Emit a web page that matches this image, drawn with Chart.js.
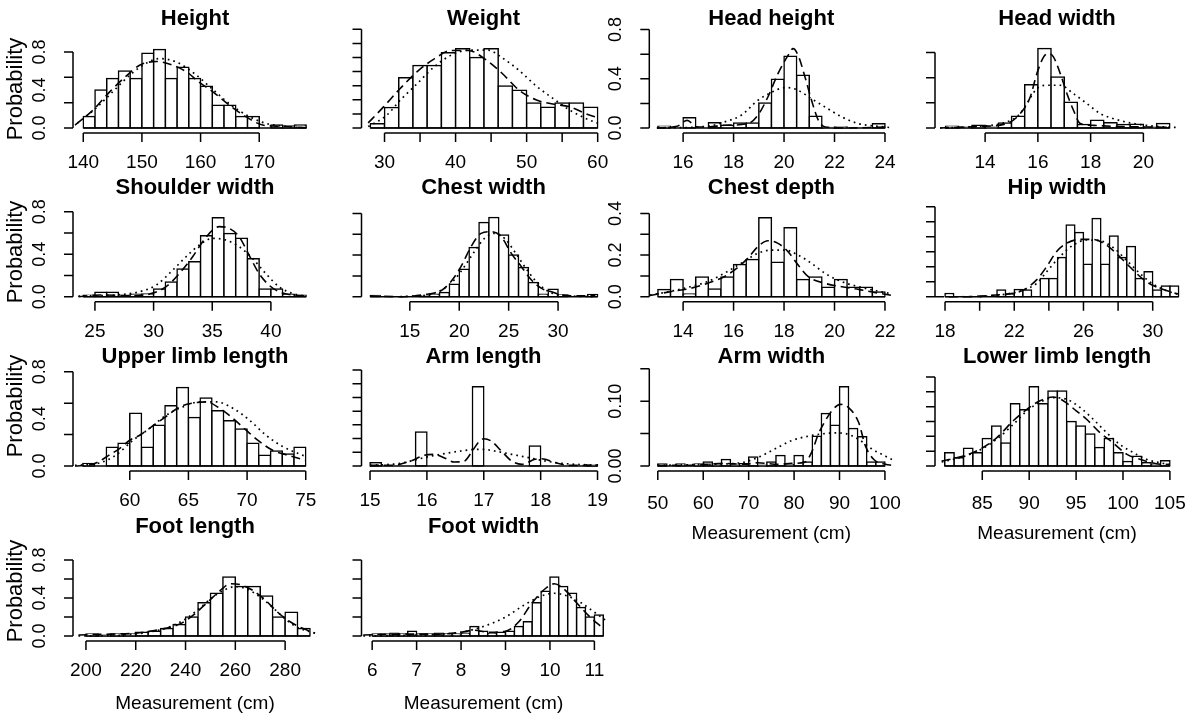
<!DOCTYPE html>
<html>
<head>
<meta charset="utf-8">
<script src="https://cdn.jsdelivr.net/npm/chart.js@4.4.0/dist/chart.umd.min.js"></script>
<style>
body{margin:0;background:#fff;}
#wrap{position:relative;width:1190px;height:717px;overflow:hidden;background:#fff;}
#wrap canvas{position:absolute;left:0;top:0;}
</style>
</head>
<body>
<div id="wrap"></div>
<script>
// ---- data (density per bin, curve points) ----
var heightBin = [140, 2];
var heightDens = [0.009,0.030,0.039,0.045,0.039,0.059,0.062,0.039,0.048,0.039,0.033,0.018,0.018,0.009,0.009,0,0.0023,0.0015,0.0023];
var heightKdeX = [138.6,141.7,144.5,147.4,149.6,152.5,155.3,157.6,159.8,162.1,164.9,167.7,170.6,172.8,178.8];
var heightKdeY = [0.0023,0.0143,0.0285,0.0413,0.0495,0.0525,0.0495,0.0443,0.036,0.0285,0.018,0.009,0.0023,0.0015,0];
var heightNormX = [139,142,145,148,151,153,156,159,162,165,168,171,174,178];
var heightNormY = [0.0038,0.015,0.0285,0.042,0.0518,0.0548,0.0518,0.0428,0.0308,0.0188,0.0098,0.0038,0.0015,0];

var weightBin = [28, 2];
var weightDens = [0.003,0.0145,0.0356,0.0444,0.0444,0.0534,0.0562,0.050,0.0562,0.0297,0.0268,0.0178,0.0147,0.0178,0.0178,0.0147];
var weightKdeX = [27.7,29.86,32.2,34.6,37.0,39.4,41.8,44.1,46.5,48.9,51.3,53.7,56.1,58.4,60.2];
var weightKdeY = [0.0036,0.015,0.028,0.040,0.049,0.055,0.055,0.049,0.039,0.027,0.020,0.017,0.015,0.010,0.007];
var weightNormX = [27.7,30.3,32.2,34.6,37.0,39.4,41.8,44.6,46.5,48.9,51.3,53.7,56.1,58.4,60.2];
var weightNormY = [0.001,0.009,0.0197,0.0315,0.0434,0.0517,0.0552,0.0552,0.050,0.041,0.030,0.021,0.0126,0.0066,0.003];

var headHBin = [15, 0.5];
var headHDens = [0.014,0,0.084,0,0.043,0.022,0.041,0.041,0.203,0.396,0.583,0.428,0.095,0.005,0.008,0,0,0.035];
var headHKdeX = [14.96,15.76,16.16,16.56,16.96,17.63,18.56,18.96,19.36,19.76,20.16,20.36,20.56,20.83,21.09,21.36,21.63,22.43,24.03];
var headHKdeY = [0,0.014,0.062,0.008,0.008,0.022,0.035,0.103,0.252,0.442,0.59,0.645,0.59,0.415,0.225,0.062,0.008,0,0.008];
var headHNormX = [14.96,16.96,17.63,18.3,18.96,19.5,20.03,20.16,20.56,21.09,21.63,22.3,22.96,24.03,24.3];
var headHNormY = [0,0.014,0.049,0.103,0.225,0.29,0.328,0.328,0.306,0.238,0.17,0.089,0.035,0.008,0];

var headWBin = [12.5, 0.5];
var headWDens = [0.013,0.005,0.021,0.005,0.04,0.093,0.345,0.632,0.406,0.204,0.027,0.061,0.042,0.027,0.029,0.005,0.035];
var headWKdeX = [12.29,13.81,14.82,15.33,15.71,15.96,16.22,16.41,16.59,16.85,17.10,17.35,17.61,18.11,18.87,20.14,21.03];
var headWKdeY = [0,0.013,0.035,0.114,0.247,0.432,0.566,0.593,0.566,0.432,0.274,0.141,0.035,0.021,0.013,0.008,0.005];
var headWNormX = [12.29,13.81,14.82,15.33,15.58,15.96,16.34,16.85,17.35,17.86,18.37,18.87,19.63,20.52,21.34];
var headWNormY = [0,0.013,0.048,0.114,0.194,0.313,0.34,0.34,0.273,0.194,0.114,0.074,0.035,0.013,0.003];

var shoulderBin = [24, 1];
var shoulderDens = [0.0032,0.0103,0.0103,0.0032,0.0055,0.0063,0.018,0.0345,0.065,0.0823,0.1435,0.1858,0.149,0.1373,0.0895,0.018,0.018,0.0055,0.0032];
var shoulderKdeX = [23.59,25.42,28.25,29.66,31.07,32.2,33.33,34.18,35.03,35.59,36.44,37.29,38.14,38.98,39.83,40.68,41.81,43.08];
var shoulderKdeY = [0,0.004,0.0023,0.0063,0.0235,0.055,0.094,0.1295,0.1568,0.1648,0.1608,0.1413,0.098,0.055,0.0275,0.0118,0.004,0.0015];
var shoulderNormX = [23.59,26.84,28.81,30.23,31.64,32.77,33.9,35.03,36.16,37.29,38.42,39.55,40.68,41.81,42.94];
var shoulderNormY = [0.0015,0.004,0.0118,0.0275,0.0628,0.094,0.1215,0.1373,0.1333,0.1178,0.0903,0.055,0.0235,0.0078,0.0015];

var chestWBin = [11, 1];
var chestWDens = [0.003,0,0,0,0,0.002,0.006,0.01,0.03,0.066,0.118,0.178,0.19,0.148,0.10,0.07,0.034,0.006,0.018,0.004,0,0,0.005];
var chestWKdeX = [10.99,14.05,16.77,18.13,19.15,20.17,21.19,22.21,23.23,24.25,25.27,26.29,27.31,28.33,29.35,30.37,31.73,33.78];
var chestWKdeY = [0.002,0,0.006,0.014,0.036,0.072,0.12,0.152,0.156,0.144,0.104,0.072,0.04,0.02,0.012,0.004,0.002,0.002];
var chestWNormX = [14.05,17.11,18.47,19.49,20.51,21.53,22.55,23.57,24.59,25.61,26.63,27.65,28.67,29.69,31.05,33.78];
var chestWNormY = [0,0.006,0.02,0.04,0.072,0.108,0.14,0.152,0.14,0.108,0.072,0.04,0.018,0.006,0.002,0];

var chestDBin = [13, 0.5];
var chestDDens = [0.035,0.083,0.013,0.094,0.037,0.094,0.155,0.179,0.379,0.166,0.331,0.083,0.094,0.045,0.083,0.045,0.045,0.022];
var chestDKdeX = [12.69,13.49,14.29,14.96,15.63,16.03,16.56,16.96,17.36,17.76,18.16,18.56,18.96,19.63,20.29,20.96,21.63,22.29];
var chestDKdeY = [0.006,0.024,0.04,0.064,0.096,0.128,0.184,0.24,0.269,0.256,0.216,0.152,0.096,0.064,0.048,0.035,0.019,0.006];
var chestDNormX = [12.69,13.63,14.29,14.96,15.63,16.29,16.96,17.49,18.03,18.56,19.09,19.63,20.29,20.96,21.63,22.29];
var chestDNormY = [0.008,0.029,0.048,0.072,0.112,0.16,0.208,0.224,0.224,0.2,0.16,0.112,0.072,0.048,0.029,0.013];

var hipBin = [18, 0.5];
var hipDens = [0.011,0,0.001,0.001,0,0,0.022,0.009,0.024,0.022,0,0.061,0.061,0.131,0.239,0.214,0.108,0.261,0.108,0.202,0.131,0.167,0.061,0.083,0.022,0.036,0.036];
var hipKdeX = [17.42,19.06,20.02,20.98,21.94,22.52,23.29,23.87,24.44,25.02,25.79,26.56,27.33,27.9,28.48,29.06,29.63,30.4,31.46];
var hipKdeY = [0,0,0.002,0.006,0.011,0.022,0.056,0.1,0.15,0.178,0.191,0.191,0.172,0.144,0.111,0.078,0.05,0.028,0.009];
var hipNormX = [20.02,21.56,22.52,23.29,23.87,24.63,25.4,26.17,26.94,27.71,28.48,29.25,30.02,30.79,31.46];
var hipNormY = [0,0.009,0.022,0.044,0.083,0.133,0.172,0.189,0.187,0.164,0.122,0.078,0.042,0.02,0.008];

var upperBin = [56, 1];
var upperDens = [0.004,0,0.03,0.036,0.084,0.03,0.065,0.096,0.125,0.077,0.108,0.088,0.072,0.059,0.036,0.017,0.024,0.019,0.03];
var upperKdeX = [55.33,56.88,58.3,59.15,60,60.85,61.98,63.12,64.25,65.38,66.52,67.65,68.78,69.92,71.05,72.18,73.31,75.01];
var upperKdeY = [0,0.003,0.018,0.028,0.041,0.049,0.064,0.079,0.094,0.1,0.102,0.092,0.076,0.057,0.039,0.025,0.018,0.009];
var upperNormX = [55.33,57.45,58.87,60.28,61.7,63.12,64.53,65.95,67.37,68.78,70.2,71.61,73.03,75.01];
var upperNormY = [0.001,0.005,0.018,0.041,0.06,0.081,0.094,0.102,0.102,0.092,0.073,0.049,0.031,0.015];

var armLBin = [15, 0.2];
var armLDens = [0.12,0,0,0,1.24,0,0,0,0,2.89,0,0,0,0,0.73,0,0,0,0,0.05];
var armLKdeX = [15,15.41,15.71,15.95,16.13,16.3,16.48,16.66,16.78,16.9,17.0,17.13,17.31,17.49,17.67,17.9,18.02,18.26,18.5,19];
var armLKdeY = [0.024,0.024,0.18,0.389,0.425,0.304,0.146,0.182,0.486,0.85,0.996,0.911,0.547,0.182,0.061,0.243,0.267,0.122,0.024,0.024];
var armLNormX = [15,15.53,15.95,16.24,16.6,16.9,17.0,17.19,17.49,17.79,18.08,18.38,19];
var armLNormY = [0.024,0.097,0.304,0.425,0.547,0.608,0.608,0.547,0.425,0.304,0.182,0.097,0.024];

var armWBin = [50, 2];
var armWDens = [0.003,0,0.003,0,0.003,0.006,0.003,0.01,0.002,0.0036,0.014,0.001,0.006,0.016,0.002,0.016,0.006,0.046,0.081,0.063,0.122,0.058,0.045,0.006,0.006];
var armWKdeX = [50,57.19,64.59,69.04,72,76.44,79.41,82.37,83.85,85.33,86.81,88.3,90.15,92,94.22,95.7,97.56,100.15,101.6];
var armWKdeY = [0.001,0.001,0.004,0.0026,0.005,0.0026,0.004,0.006,0.021,0.049,0.069,0.085,0.095,0.09,0.067,0.031,0.01,0.0026,0.001];
var armWNormX = [50,60.89,68.3,72,75.7,79.41,83.11,86.81,89.04,91.26,94.22,97.19,100.15,101.6];
var armWNormY = [0.001,0.0026,0.005,0.013,0.026,0.039,0.046,0.05,0.051,0.05,0.041,0.026,0.015,0.01];

var lowerBin = [81, 1];
var lowerDens = [0.018,0.011,0.024,0.018,0.037,0.054,0.031,0.084,0.076,0.107,0.084,0.101,0.101,0.06,0.054,0.043,0.025,0.037,0.018,0.006,0.013,0.0045,0.002,0.007];
var lowerKdeX = [80.67,82.98,84.75,86.53,88.3,89.72,91.15,92.57,93.63,95.05,96.12,97.54,98.96,100.38,101.8,103.58,105];
var lowerKdeY = [0.0067,0.0135,0.0225,0.038,0.061,0.076,0.088,0.093,0.088,0.074,0.063,0.045,0.031,0.016,0.009,0.003,0.002];
var lowerNormX = [80.67,82.98,84.75,86.53,88.3,89.72,91.15,92.57,93.99,95.41,96.83,98.25,99.67,101.1,102.5,103.9,105];
var lowerNormY = [0.0054,0.0126,0.0216,0.036,0.056,0.074,0.086,0.092,0.09,0.079,0.063,0.045,0.029,0.018,0.009,0.0045,0.002];

var footLBin = [200, 5];
var footLDens = [0.02,0.01,0.02,0.02,0.04,0.05,0.08,0.12,0.2,0.35,0.45,0.62,0.52,0.52,0.42,0.2,0.25,0.08];
var footLKdeX = [197,210,220,230,238,244,249,254,258,262,267,272,277,282,288,292];
var footLKdeY = [0.01,0.02,0.03,0.07,0.13,0.24,0.36,0.48,0.55,0.54,0.48,0.38,0.25,0.15,0.07,0.03];
var footLNormX = [197,215,225,233,240,246,251,256,260,265,270,275,280,285,292];
var footLNormY = [0,0.01,0.04,0.09,0.18,0.3,0.41,0.49,0.52,0.49,0.41,0.3,0.18,0.09,0.03];

var footWBin = [6, 0.2];
var footWDens = [0.02,0.02,0.03,0.02,0.05,0.02,0.02,0.03,0.02,0.02,0.03,0.1,0.05,0.03,0.04,0.05,0.1,0.15,0.35,0.47,0.62,0.52,0.45,0.3,0.2,0.22];
var footWKdeX = [5.8,6.5,7,7.5,8,8.3,8.6,9,9.3,9.6,9.9,10.1,10.3,10.6,10.9,11.2];
var footWKdeY = [0.01,0.02,0.02,0.02,0.04,0.06,0.04,0.05,0.15,0.35,0.5,0.55,0.5,0.35,0.2,0.08];
var footWNormX = [5.8,7,8,8.5,9,9.4,9.8,10.1,10.4,10.7,11,11.3];
var footWNormY = [0,0.01,0.04,0.1,0.2,0.32,0.42,0.45,0.42,0.35,0.25,0.15];

// ---- page layout ----
var W = 1190, H = 717;
var colLeft = [73, 361.5, 649.3, 935];
var rowBase = [128, 296.7, 466, 636];
var plotW = 244, plotH = 100;
var probY = [89, 252, 406, 591];
var FONT = '"Liberation Sans", Arial, sans-serif';

var panels = [
  {title:'Height', col:0, row:0, bin:heightBin, dens:heightDens, kx:heightKdeX, ky:heightKdeY, nx:heightNormX, ny:heightNormY,
   xRange:[138.25,179.85], xTicks:[140,150,160,170], xLabels:[140,150,160,170],
   yTicks:[0,0.02,0.04,0.06], topPx:76, yLabels:[[0,'0.0'],[0.03,'0.4'],[0.06,'0.8']]},
  {title:'Weight', col:1, row:0, bin:weightBin, dens:weightDens, kx:weightKdeX, ky:weightKdeY, nx:weightNormX, ny:weightNormY,
   xRange:[26.76,61.1], xTicks:[30,35,40,45,50,55,60], xLabels:[30,40,50,60],
   yTicks:[0,0.01,0.02,0.03,0.04,0.05,0.06,0.07], topPx:98.7, yLabels:[]},
  {title:'Head height', col:2, row:0, bin:headHBin, dens:headHDens, kx:headHKdeX, ky:headHKdeY, nx:headHNormX, ny:headHNormY,
   xRange:[14.66,24.33], xTicks:[16,18,20,22,24], xLabels:[16,18,20,22,24],
   yTicks:[0,0.2,0.4,0.6,0.8], topPx:98.4, yLabels:[[0,'0.0'],[0.4,'0.4'],[0.8,'0.8']]},
  {title:'Head width', col:3, row:0, bin:headWBin, dens:headWDens, kx:headWKdeX, ky:headWKdeY, nx:headWNormX, ny:headWNormY,
   xRange:[12.1,21.35], xTicks:[14,16,18,20], xLabels:[14,16,18,20],
   yTicks:[0,0.2,0.4,0.6], topPx:75.4, yLabels:[]},
  {title:'Shoulder width', col:0, row:1, bin:shoulderBin, dens:shoulderDens, kx:shoulderKdeX, ky:shoulderKdeY, nx:shoulderNormX, ny:shoulderNormY,
   xRange:[23.13,43.93], xTicks:[25,30,35,40], xLabels:[25,30,35,40],
   yTicks:[0,0.05,0.1,0.15,0.2], topPx:85, yLabels:[[0,'0.0'],[0.1,'0.4'],[0.2,'0.8']]},
  {title:'Chest width', col:1, row:1, bin:chestWBin, dens:chestWDens, kx:chestWKdeX, ky:chestWKdeY, nx:chestWNormX, ny:chestWNormY,
   xRange:[10.11,34.8], xTicks:[15,20,25,30], xLabels:[15,20,25,30],
   yTicks:[0,0.05,0.1,0.15,0.2], topPx:83.3, yLabels:[]},
  {title:'Chest depth', col:2, row:1, bin:chestDBin, dens:chestDDens, kx:chestDKdeX, ky:chestDKdeY, nx:chestDNormX, ny:chestDNormY,
   xRange:[12.66,22.33], xTicks:[14,16,18,20,22], xLabels:[14,16,18,20,22],
   yTicks:[0,0.1,0.2,0.3,0.4], topPx:83.3, yLabels:[[0,'0.0'],[0.2,'0.2'],[0.4,'0.4']]},
  {title:'Hip width', col:3, row:1, bin:hipBin, dens:hipDens, kx:hipKdeX, ky:hipKdeY, nx:hipNormX, ny:hipNormY,
   xRange:[17.42,31.52], xTicks:[18,20,22,24,26,28,30], xLabels:[18,22,26,30],
   yTicks:[0,0.05,0.1,0.15,0.2,0.25,0.3], topPx:90, yLabels:[]},
  {title:'Upper limb length', col:0, row:2, bin:upperBin, dens:upperDens, kx:upperKdeX, ky:upperKdeY, nx:upperNormX, ny:upperNormY,
   xRange:[55.16,75.96], xTicks:[60,65,70,75], xLabels:[60,65,70,75],
   yTicks:[0,0.05,0.1,0.15], topPx:94.3, yLabels:[[0,'0.0'],[0.075,'0.4'],[0.15,'0.8']]},
  {title:'Arm length', col:1, row:2, bin:armLBin, dens:armLDens, kx:armLKdeX, ky:armLKdeY, nx:armLNormX, ny:armLNormY,
   xRange:[14.85,19.14], xTicks:[15,16,17,18,19], xLabels:[15,16,17,18,19],
   yTicks:[0,0.5,1,1.5,2,2.5,3,3.5], topPx:96, yLabels:[]},
  {title:'Arm width', col:2, row:2, bin:armWBin, dens:armWDens, kx:armWKdeX, ky:armWKdeY, nx:armWNormX, ny:armWNormY,
   xRange:[48.13,101.84], xTicks:[50,60,70,80,90,100], xLabels:[50,60,70,80,90,100],
   yTicks:[0,0.05,0.1,0.15], topPx:97.3, yLabels:[[0,'0.00'],[0.1,'0.10']], xName:'Measurement (cm)'},
  {title:'Lower limb length', col:3, row:2, bin:lowerBin, dens:lowerDens, kx:lowerKdeX, ky:lowerKdeY, nx:lowerNormX, ny:lowerNormY,
   xRange:[79.96,105.97], xTicks:[85,90,95,100,105], xLabels:[85,90,95,100,105],
   yTicks:[0,0.02,0.04,0.06,0.08,0.1,0.12], topPx:89, yLabels:[], xName:'Measurement (cm)'},
  {title:'Foot length', col:0, row:3, bin:footLBin, dens:footLDens, kx:footLKdeX, ky:footLKdeY, nx:footLNormX, ny:footLNormY,
   xRange:[194.8,292.8], xTicks:[200,220,240,260,280], xLabels:[200,220,240,260,280],
   yTicks:[0,0.2,0.4,0.6,0.8], topPx:76, yLabels:[[0,'0.0'],[0.4,'0.4'],[0.8,'0.8']], xName:'Measurement (cm)'},
  {title:'Foot width', col:1, row:3, bin:footWBin, dens:footWDens, kx:footWKdeX, ky:footWKdeY, nx:footWNormX, ny:footWNormY,
   xRange:[5.76,11.25], xTicks:[6,7,8,9,10,11], xLabels:[6,7,8,9,10,11],
   yTicks:[0,0.2,0.4,0.6,0.8], topPx:76, yLabels:[], xName:'Measurement (cm)'}
];

function pts(xs, ys) {
  var out = [];
  for (var i = 0; i < xs.length; i++) out.push({x: xs[i], y: ys[i]});
  return out;
}

// R style axes, title and labels, placed with the chart's own scales
function drawFrame(chart, p) {
  var ctx = chart.ctx, xs = chart.scales.x, ys = chart.scales.y, area = chart.chartArea;
  var base = ys.getPixelForValue(0);
  ctx.save();
  ctx.strokeStyle = '#000';
  ctx.fillStyle = '#000';
  ctx.lineWidth = 1.5;

  // zero-height bins still show their bottom edge
  ctx.beginPath();
  ctx.moveTo(xs.getPixelForValue(p.bin[0]), base);
  ctx.lineTo(xs.getPixelForValue(p.bin[0] + p.bin[1] * p.dens.length), base);
  ctx.stroke();

  // x axis
  var ay = base + 5;
  var x0 = xs.getPixelForValue(p.xTicks[0]);
  var x1 = xs.getPixelForValue(p.xTicks[p.xTicks.length - 1]);
  ctx.beginPath();
  ctx.moveTo(x0, ay); ctx.lineTo(x1, ay);
  p.xTicks.forEach(function(t) {
    var px = xs.getPixelForValue(t);
    ctx.moveTo(px, ay); ctx.lineTo(px, ay + 9);
  });
  ctx.stroke();
  ctx.font = '19px ' + FONT;
  ctx.textAlign = 'center';
  ctx.textBaseline = 'middle';
  p.xLabels.forEach(function(t) {
    ctx.fillText(String(t), xs.getPixelForValue(t), base + (p.row === 2 && p.col > 1 ? 38 : 35));
  });

  // y axis
  var ax = area.left;
  ctx.beginPath();
  ctx.moveTo(ax, ys.getPixelForValue(p.yTicks[0]));
  ctx.lineTo(ax, ys.getPixelForValue(p.yTicks[p.yTicks.length - 1]));
  p.yTicks.forEach(function(t) {
    var py = ys.getPixelForValue(t);
    ctx.moveTo(ax, py); ctx.lineTo(ax - 9, py);
  });
  ctx.stroke();
  ctx.font = '18px ' + FONT;
  p.yLabels.forEach(function(l) {
    ctx.save();
    ctx.translate(ax - 33, ys.getPixelForValue(l[0]));
    ctx.rotate(-Math.PI / 2);
    ctx.fillText(l[1], 0, 0);
    ctx.restore();
  });

  // title
  var cx = (area.left + area.right) / 2;
  ctx.font = 'bold 22px ' + FONT;
  ctx.fillText(p.title, cx, base - 109);

  if (p.col === 0) {
    ctx.save();
    ctx.font = '22px ' + FONT;
    ctx.translate(16, probY[p.row]);
    ctx.rotate(-Math.PI / 2);
    ctx.fillText('Probability', 0, 0);
    ctx.restore();
  }
  if (p.xName) {
    ctx.font = '19px ' + FONT;
    ctx.fillText(p.xName, cx, base + 68);
  }
  ctx.restore();
}

function addPanel(p) {
  var cv = document.createElement('canvas');
  cv.width = W; cv.height = H;
  cv.style.width = W + 'px'; cv.style.height = H + 'px';
  document.getElementById('wrap').appendChild(cv);

  var left = colLeft[p.col], base = rowBase[p.row];
  var yMax = p.yTicks[p.yTicks.length - 1] * plotH / p.topPx;
  var bars = [];
  for (var i = 0; i < p.dens.length; i++) {
    bars.push({x: p.bin[0] + p.bin[1] * (i + 0.5), y: p.dens[i]});
  }

  new Chart(cv, {
    type: 'bar',
    data: {
      datasets: [
        {type: 'bar', data: bars, backgroundColor: '#ffffff', borderColor: '#000000',
         borderWidth: 1.5, inflateAmount: 0.75, borderSkipped: false,
         barPercentage: 1, categoryPercentage: 1, order: 3, clip: false},
        {type: 'line', data: pts(p.kx, p.ky), borderColor: '#000000', borderWidth: 1.6,
         borderDash: [9, 5], pointRadius: 0, cubicInterpolationMode: 'monotone', fill: false, order: 2, clip: false},
        {type: 'line', data: pts(p.nx, p.ny), borderColor: '#000000', borderWidth: 1.7,
         borderDash: [1.7, 4], pointRadius: 0, cubicInterpolationMode: 'monotone', fill: false, order: 1, clip: false}
      ]
    },
    options: {
      responsive: false,
      animation: false,
      devicePixelRatio: 1,
      events: [],
      layout: {padding: {left: left, right: W - left - plotW, top: base - plotH, bottom: H - base}},
      scales: {
        x: {type: 'linear', min: p.xRange[0], max: p.xRange[1], offset: false, display: false},
        y: {type: 'linear', min: 0, max: yMax, display: false}
      },
      plugins: {legend: {display: false}, tooltip: {enabled: false}, title: {display: false}}
    },
    plugins: [{id: 'rframe', afterDraw: function(chart) { drawFrame(chart, p); }}]
  });
}

panels.forEach(addPanel);
</script>
</body>
</html>
